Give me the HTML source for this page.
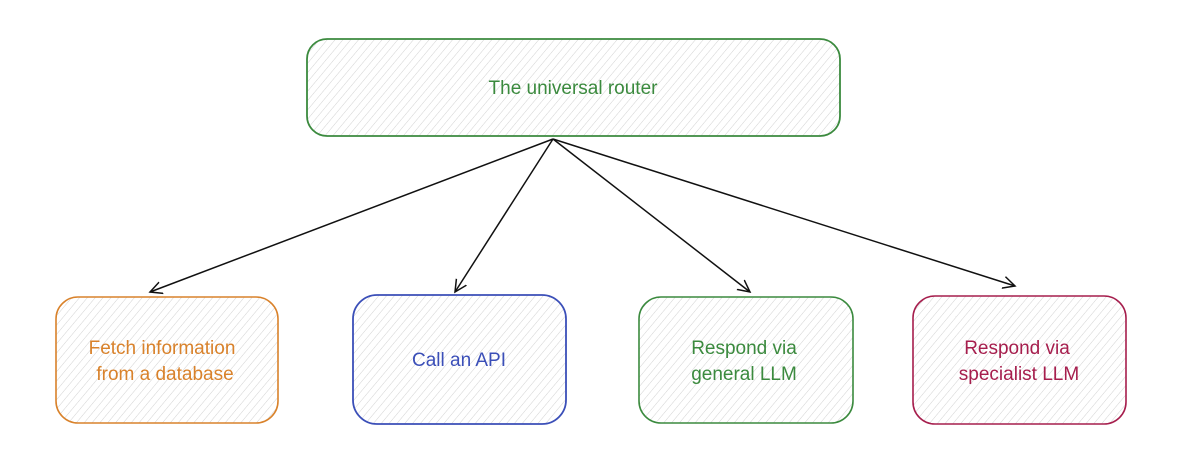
<!DOCTYPE html>
<html><head><meta charset="utf-8"><style>
html,body{margin:0;padding:0;background:#fff;}
svg{display:block;}
text{font-family:"Liberation Sans",sans-serif;font-size:19px;text-anchor:middle;}
</style></head><body>
<svg width="1200" height="473" viewBox="0 0 1200 473" xmlns="http://www.w3.org/2000/svg">
<defs>
<pattern id="h" width="6" height="6" patternUnits="userSpaceOnUse" patternTransform="rotate(40)">
<line x1="0" y1="0" x2="0" y2="6" stroke="#d2d2d2" stroke-width="1"/>
</pattern>
<marker id="a" markerWidth="14" markerHeight="14" refX="12" refY="7" orient="auto" markerUnits="userSpaceOnUse">
<path d="M0,1 L12,7 L0,13" fill="none" stroke="#111" stroke-width="1.5"/>
</marker>
</defs>
<rect x="307" y="39" width="533" height="97" rx="20" fill="url(#h)" stroke="#3b8a3e" stroke-width="1.8"/>
<text x="573" y="94" fill="#3b8a3e" font-size="21">The universal router</text>

<g stroke="#111" stroke-width="1.5" fill="none" marker-end="url(#a)">
<line x1="553" y1="139" x2="150" y2="292"/>
<line x1="553" y1="139" x2="455" y2="292"/>
<line x1="553" y1="139" x2="750" y2="292"/>
<line x1="553" y1="139" x2="1015" y2="286"/>
</g>

<rect x="56" y="297" width="222" height="126" rx="22" fill="url(#h)" stroke="#d9822b" stroke-width="1.6"/>
<text x="162" y="354" fill="#d9822b">Fetch information</text>
<text x="165" y="380" fill="#d9822b">from a database</text>

<rect x="353" y="295" width="213" height="129" rx="24" fill="url(#h)" stroke="#3b4fb8" stroke-width="1.8"/>
<text x="459" y="366" fill="#3b4fb8">Call an API</text>

<rect x="639" y="297" width="214" height="126" rx="22" fill="url(#h)" stroke="#3b8a3e" stroke-width="1.6"/>
<text x="744" y="354" fill="#3b8a3e">Respond via</text>
<text x="744" y="380" fill="#3b8a3e">general LLM</text>

<rect x="913" y="296" width="213" height="128" rx="22" fill="url(#h)" stroke="#a61e4d" stroke-width="1.6"/>
<text x="1017" y="354" fill="#a61e4d">Respond via</text>
<text x="1019" y="380" fill="#a61e4d">specialist LLM</text>
</svg>
</body></html>
